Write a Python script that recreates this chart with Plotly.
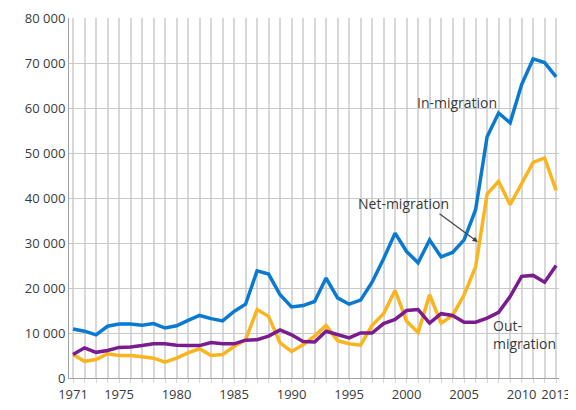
import plotly.graph_objects as go

years = list(range(1971, 2014))

in_migration = [10900, 10400, 9600, 11500, 12000, 12000, 11700, 12100, 11100, 11600,
                12800, 13900, 13200, 12700, 14800, 16400, 23800, 23100, 18500, 15800,
                16100, 17000, 22200, 17800, 16400, 17300, 21300, 26500, 32200, 28100,
                25600, 30700, 26900, 27900, 30700, 37400, 53600, 58900, 56700, 65200,
                70900, 70100, 66900]

net_migration = [5200, 3700, 4100, 5400, 5000, 5000, 4700, 4400, 3500, 4400,
                 5600, 6500, 5000, 5200, 7000, 8500, 15200, 13700, 7800, 5900,
                 7400, 9300, 11700, 8300, 7600, 7300, 11700, 14300, 19500, 12600,
                 10100, 18500, 12200, 13900, 18500, 24700, 40900, 43700, 38500, 43300,
                 47900, 48900, 41700]

out_migration = [5200, 6700, 5700, 6100, 6800, 6900, 7200, 7600, 7600, 7300,
                 7200, 7200, 7900, 7600, 7600, 8400, 8500, 9300, 10700, 9600,
                 8100, 8000, 10400, 9600, 8900, 10000, 10000, 12100, 13000, 15000,
                 15200, 12200, 14300, 13900, 12400, 12400, 13300, 14600, 18100, 22600,
                 22800, 21300, 25000]

x_ticks = [1971, 1975, 1980, 1985, 1990, 1995, 2000, 2005, 2010, 2013]
y_ticks = [0, 10000, 20000, 30000, 40000, 50000, 60000, 70000, 80000]

BLUE = "#0a7ad0"
YELLOW = "#fab41e"
PURPLE = "#7b1c8e"
TEXT = "#3a3a3a"
FONT = "Open Sans"

fig = go.Figure()
fig.add_trace(go.Scatter(x=years, y=in_migration, mode="lines", name="In-migration",
                         line=dict(color=BLUE, width=3.5)))
fig.add_trace(go.Scatter(x=years, y=net_migration, mode="lines", name="Net-migration",
                         line=dict(color=YELLOW, width=3.5)))
fig.add_trace(go.Scatter(x=years, y=out_migration, mode="lines", name="Out-migration",
                         line=dict(color=PURPLE, width=3.5)))

fig.add_annotation(x=2004.4, y=61200, text="In-migration", showarrow=False,
                   font=dict(family=FONT, size=14, color=TEXT))
fig.add_annotation(x=2006.2, y=30200, ax=2002.6, ay=37000, axref="x", ayref="y",
                   text=" ", showarrow=True, arrowhead=2, arrowsize=0.9, arrowwidth=1.2,
                   arrowcolor="#444444", standoff=0, startstandoff=0)
fig.add_annotation(x=1999.7, y=38800, text="Net-migration", showarrow=False,
                   font=dict(family=FONT, size=14, color=TEXT))
fig.add_annotation(x=2007.3, y=9600, text="Out-<br>migration", showarrow=False,
                   xanchor="left", align="left",
                   font=dict(family=FONT, size=14, color=TEXT))

# the page body adds an 8px offset, so margins are compensated here
fig.update_layout(
    template="none",
    width=576, height=410,
    margin=dict(l=61, r=25, t=10, b=40, autoexpand=False),
    paper_bgcolor="white", plot_bgcolor="white",
    showlegend=False,
    separators=", ",
    font=dict(family=FONT, size=13, color=TEXT),
)
fig.update_xaxes(
    automargin=False,
    range=[1970.65, 2013.25],
    tickvals=x_ticks, ticktext=[str(v) for v in x_ticks],
    showgrid=True, gridcolor="#d8d8d8", gridwidth=1.5,
    minor=dict(dtick=1, tick0=1971, showgrid=True, gridcolor="#d8d8d8", gridwidth=1.5,
               ticks="outside", ticklen=4, tickcolor="#d8d8d8"),
    ticks="outside", ticklen=4, tickcolor="#d8d8d8",
    showline=True, linecolor="#a0a0a0", linewidth=1,
    zeroline=False,
    tickfont=dict(family=FONT, size=13, color=TEXT),
)
fig.update_yaxes(
    automargin=False,
    range=[0, 80000],
    tickvals=y_ticks, tickformat=",d",
    showgrid=True, gridcolor="#c8c8c8", gridwidth=1,
    showline=True, linecolor="#a0a0a0", linewidth=1,
    zeroline=False,
    ticks="",
    tickfont=dict(family=FONT, size=13, color=TEXT),
)

fig.write_html("out.html")
